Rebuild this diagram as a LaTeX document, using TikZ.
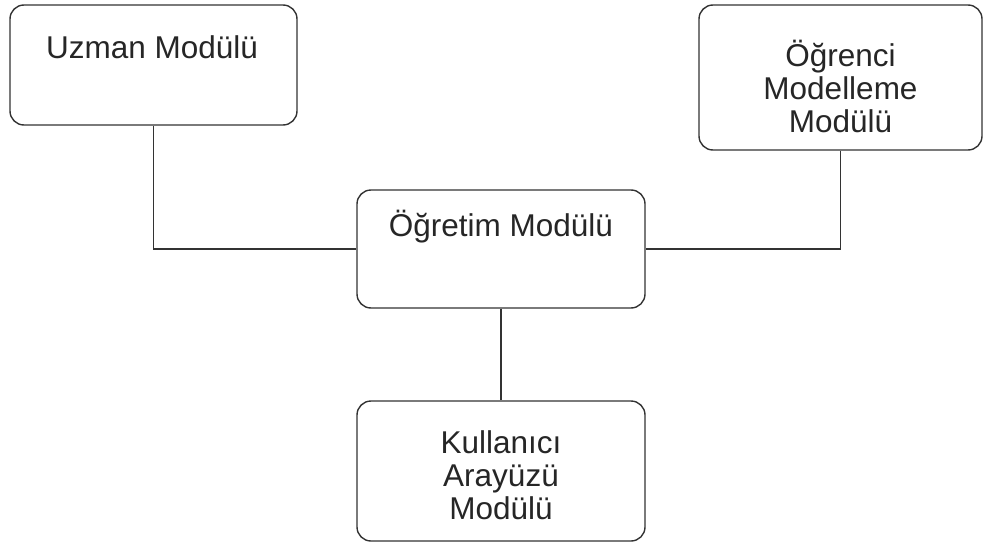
\documentclass[tikz,border=0pt]{standalone}
\usepackage{fontspec}
\setmainfont{Liberation Sans}
\begin{document}
\begin{tikzpicture}[x=1pt,y=-1pt,
  modbox/.style={draw=black!80, line width=1.4pt, rounded corners=14pt, fill=white, inner sep=0pt},
  modtext/.style={text=black!85, font=\fontsize{31.5}{33}\selectfont, align=center, inner sep=0pt},
  link/.style={draw=black!80, line width=1.4pt}]
\useasboundingbox[fill=white] (0,0) rectangle (983,546);
\node[modbox, minimum width=287pt, minimum height=120pt] (uz) at (153.5,65) {};
\node[modbox, minimum width=283pt, minimum height=145pt] (og) at (840.5,77.5) {};
\node[modbox, minimum width=288pt, minimum height=118pt] (ot) at (501,249) {};
\node[modbox, minimum width=288pt, minimum height=140pt] (ku) at (501,471) {};
\node[modtext] (uzt) at (152,47) {Uzman Modülü};
\node[modtext] (ogt) at (840.5,86) {Öğrenci\\Modelleme\\Modülü};
\node[modtext] (ott) at (501,227) {Öğretim Modülü};
\node[modtext] (kut) at (501,475) {Kullanıcı\\Arayüzü\\Modülü};
\draw[link] (uz.south) |- (ot.west);
\draw[link] (og.south) |- (ot.east);
\draw[link] (ot.south) -- (ku.north);
\end{tikzpicture}
\end{document}
